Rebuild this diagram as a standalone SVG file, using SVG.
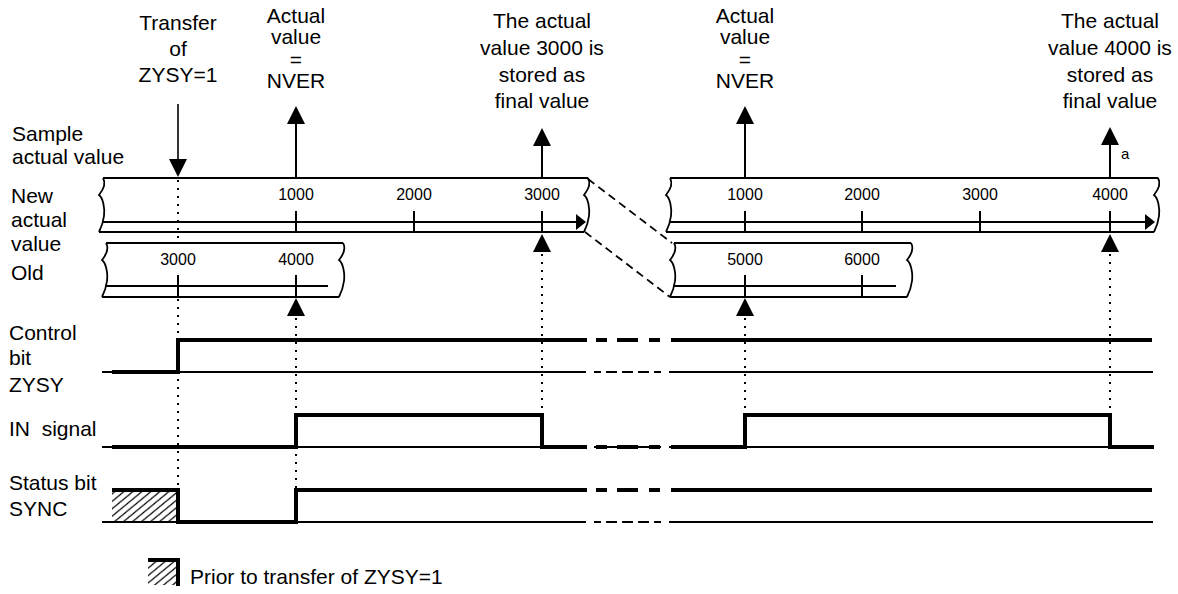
<svg xmlns="http://www.w3.org/2000/svg" width="1178" height="594" viewBox="0 0 1178 594">
<style>
text { font-family: "Liberation Sans", Arial, sans-serif; fill: #000; }
.lbl { font-size: 21px; }
.ctr { text-anchor: middle; }
.tick { font-size: 16px; text-anchor: middle; }
.band { fill: none; stroke: #000; stroke-width: 1.8; }
.axis { fill: none; stroke: #000; stroke-width: 2; }
.thick { fill: none; stroke: #000; stroke-width: 4; stroke-linejoin: miter; }
.thin { fill: none; stroke: #000; stroke-width: 1.8; }
.dot { fill: none; stroke: #000; stroke-width: 2; stroke-dasharray: 2 6; }
.dash { fill: none; stroke: #000; stroke-width: 1.8; stroke-dasharray: 8 5; }
.aline { fill: none; stroke: #000; stroke-width: 2; }
</style>
<defs>
  <path id="brace" d="M2,0 C5,5 2,12 -2,17 C2,20 4,30 3,38 C2,46 0,50 -2,54" fill="none" stroke="#000" stroke-width="1.8"/>
  <path id="up" d="M0,0 L9,18 L-9,18 Z" fill="#000"/>
  <path id="down" d="M0,0 L-9,-18 L9,-18 Z" fill="#000"/>
  <path id="arrR" d="M0,0 L-10,-8 L-10,8 Z" fill="#000"/>
  <pattern id="hatch" patternUnits="userSpaceOnUse" width="9" height="9" patternTransform="skewX(-12)">
    <path d="M-1,1 L1,-1 M0,9 L9,0 M8,10 L10,8" stroke="#000" stroke-width="1.4"/>
  </pattern>
</defs>

<g id="labels">
  <text class="lbl" x="12" y="141">Sample</text>
  <text class="lbl" x="12" y="164">actual value</text>
  <text class="lbl" x="11" y="203">New</text>
  <text class="lbl" x="11" y="227">actual</text>
  <text class="lbl" x="11" y="251">value</text>
  <text class="lbl" x="11" y="280">Old</text>
  <text class="lbl" x="9" y="340">Control</text>
  <text class="lbl" x="9" y="365">bit</text>
  <text class="lbl" x="9" y="392">ZYSY</text>
  <text class="lbl" x="9" y="436" xml:space="preserve">IN  signal</text>
  <text class="lbl" x="9" y="490">Status bit</text>
  <text class="lbl" x="9" y="516">SYNC</text>
</g>

<g id="note-transfer">
  <text class="lbl ctr" x="178" y="30">Transfer</text>
  <text class="lbl ctr" x="178" y="56">of</text>
  <text class="lbl ctr" x="178" y="82">ZYSY=1</text>
</g>
<g id="note-nver-1">
  <text class="lbl ctr" x="296" y="23">Actual</text>
  <text class="lbl ctr" x="296" y="44">value</text>
  <text class="lbl ctr" x="296" y="67">=</text>
  <text class="lbl ctr" x="296" y="88">NVER</text>
</g>
<g id="note-final-1">
  <text class="lbl ctr" x="542" y="28">The actual</text>
  <text class="lbl ctr" x="542" y="55">value 3000 is</text>
  <text class="lbl ctr" x="542" y="82">stored as</text>
  <text class="lbl ctr" x="542" y="108">final value</text>
</g>
<g id="note-nver-2">
  <text class="lbl ctr" x="745" y="23">Actual</text>
  <text class="lbl ctr" x="745" y="44">value</text>
  <text class="lbl ctr" x="745" y="67">=</text>
  <text class="lbl ctr" x="745" y="88">NVER</text>
</g>
<g id="note-final-2">
  <text class="lbl ctr" x="1110" y="28">The actual</text>
  <text class="lbl ctr" x="1110" y="55">value 4000 is</text>
  <text class="lbl ctr" x="1110" y="82">stored as</text>
  <text class="lbl ctr" x="1110" y="108">final value</text>
  <text x="1121" y="159" style="font-size:15px">a</text>
</g>

<g id="band-new-1">
  <path class="band" d="M103,178 H588 M99,232 H584"/>
  <use href="#brace" x="101" y="178"/>
  <use href="#brace" x="586" y="178"/>
  <path class="axis" d="M102,222 H577 M296,211 V232 M414,211 V232 M542,211 V232"/>
  <use href="#arrR" x="586" y="222"/>
  <text class="tick" x="296" y="200">1000</text>
  <text class="tick" x="414" y="200">2000</text>
  <text class="tick" x="542" y="200">3000</text>
</g>
<g id="band-old-1">
  <path class="band" d="M106,243 H343 M102,297 H339"/>
  <use href="#brace" x="104" y="243"/>
  <use href="#brace" x="341" y="243"/>
  <path class="axis" d="M105,286 H328 M178,275 V297 M296,275 V297"/>
  <text class="tick" x="178" y="265">3000</text>
  <text class="tick" x="296" y="265">4000</text>
</g>
<g id="band-new-2">
  <path class="band" d="M670,178 H1158 M666,232 H1154"/>
  <use href="#brace" x="668" y="178"/>
  <use href="#brace" x="1156" y="178"/>
  <path class="axis" d="M669,222 H1146 M745,211 V232 M862,211 V232 M980,211 V232 M1110,211 V232"/>
  <use href="#arrR" x="1155" y="222"/>
  <text class="tick" x="745" y="200">1000</text>
  <text class="tick" x="862" y="200">2000</text>
  <text class="tick" x="980" y="200">3000</text>
  <text class="tick" x="1110" y="200">4000</text>
</g>
<g id="band-old-2">
  <path class="band" d="M674,243 H911 M670,297 H907"/>
  <use href="#brace" x="672" y="243"/>
  <use href="#brace" x="909" y="243"/>
  <path class="axis" d="M673,286 H896 M745,275 V297 M862,275 V297"/>
  <text class="tick" x="745" y="265">5000</text>
  <text class="tick" x="862" y="265">6000</text>
</g>

<g id="signal-control">
  <path class="thin" d="M102,372 H586 M669,372 H1153"/>
  <path class="thin" d="M594,372 H601 M606,372 H617 M622,372 H633 M638,372 H649 M654,372 H661"/>
  <path class="thick" d="M112,372 H178 V340 H587 M671,340 H1152"/>
  <path class="thick" d="M596,340 H607 M617,340 H638 M649,340 H660"/>
</g>
<g id="signal-in">
  <path class="thin" d="M102,447 H586 M669,447 H1153"/>
  <path class="thin" d="M594,447 H601 M606,447 H617 M622,447 H633 M638,447 H649 M654,447 H661"/>
  <path class="thick" d="M112,447 H296 V415 H542 V447 H587 M671,447 H745 V415 H1110 V447 H1154"/>
  <path class="thick" d="M596,447 H607 M617,447 H638 M649,447 H660"/>
</g>
<g id="signal-sync">
  <rect x="112" y="490" width="66" height="32" fill="url(#hatch)"/>
  <path class="thin" d="M102,522 H586 M669,522 H1153"/>
  <path class="thin" d="M594,522 H601 M606,522 H617 M622,522 H633 M638,522 H649 M654,522 H661"/>
  <path class="thick" d="M112,490 H178 V522 H296 V490 H587 M671,490 H1152"/>
  <path class="thick" d="M596,490 H607 M617,490 H638 M649,490 H660"/>
</g>

<g id="legend">
  <rect x="148" y="560" width="30" height="25" fill="url(#hatch)"/>
  <path class="thick" d="M148,560 H178 V586"/>
  <text class="lbl" x="190" y="584">Prior to transfer of ZYSY=1</text>
</g>

<g id="connectors">
  <path d="M178,104 V160" stroke="#000" stroke-width="1.6"/>
  <use href="#down" x="178" y="177"/>
  <path class="aline" d="M296,178 V124 M745,178 V124 M542,178 V146 M1110,178 V145"/>
  <use href="#up" x="296" y="106"/>
  <use href="#up" x="745" y="106"/>
  <use href="#up" x="542" y="128"/>
  <use href="#up" x="1110" y="127"/>
  <path class="dot" d="M178,180 V241 M178,299 V489 M296,318 V489 M542,254 V414 M745,318 V414 M1110,254 V414"/>
  <use href="#up" x="542" y="234"/>
  <use href="#up" x="1110" y="234"/>
  <use href="#up" x="296" y="298"/>
  <use href="#up" x="745" y="298"/>
  <path class="dash" d="M588,179 L672,243 M585,232 L670,297"/>
</g>
</svg>
